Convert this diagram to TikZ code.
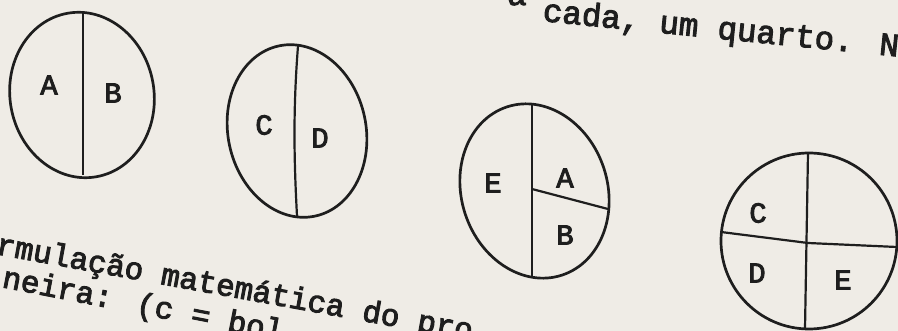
\documentclass[tikz,border=0pt]{standalone}
\usepackage{fontspec}
\newfontfamily\typewriter{Liberation Mono}[FakeBold=3]
\usetikzlibrary{positioning}

\definecolor{paper}{RGB}{239,236,230}
\definecolor{ink}{RGB}{30,30,30}

\begin{document}
\begin{tikzpicture}[
    x=1pt,
    y=-1pt,
    every node/.style={
        font=\typewriter\fontsize{29pt}{34pt}\selectfont,
        text=ink,
        inner sep=0pt
    },
    outline/.style={
        line width=2.7pt,
        draw=ink
    },
    cut/.style={
        line width=2.2pt,
        draw=ink
    },
    typed/.style={
        anchor=base west,
        font=\typewriter\fontsize{31pt}{36pt}\selectfont
    }
]

    % -------------------------------------------------------
    % Page
    % -------------------------------------------------------
    \useasboundingbox (0,0) rectangle (898,331);
    \fill[paper] (0,0) rectangle (898,331);
    \clip (0,0) rectangle (898,331);

    % -------------------------------------------------------
    % First cake: halves A and B
    % -------------------------------------------------------
    \draw[outline, rotate around={10:(82,95)}]
        (82,95) ellipse [x radius=72pt, y radius=83pt];
    \draw[cut] (83,13) -- (83,175);

    \node (ab-a) at (49,85) {A};
    \node (ab-b) at (113,93) {B};

    % -------------------------------------------------------
    % Second cake: halves C and D
    % -------------------------------------------------------
    \draw[outline, rotate around={12:(297,131)}]
        (297,131) ellipse [x radius=69pt, y radius=87pt];
    \draw[cut] (298,46) .. controls (293,110) and (294,160) .. (297,216);

    \node (cd-c) at (264,125) {C};
    \node (cd-d) at (320,138) {D};

    % -------------------------------------------------------
    % Third cake: E with the quarters A and B
    % -------------------------------------------------------
    \draw[outline, rotate around={18:(534.5,191)}]
        (534.5,191) ellipse [x radius=73pt, y radius=88.5pt];
    \draw[cut] (532,105) -- (532,278);
    \draw[cut] (532,189) -- (608,209);

    \node (eab-e) at (493,183) {E};
    \node (eab-a) at (565,178) {A};
    \node (eab-b) at (565,235) {B};

    % -------------------------------------------------------
    % Fourth cake: quarters C, D and E
    % -------------------------------------------------------
    \draw[outline] (809,241) circle [radius=88pt];
    \draw[cut] (808,153) -- (805,329);
    \draw[cut] (721,232) -- (808,243) -- (897,247);

    \node (cde-c) at (758,213) {C};
    \node (cde-d) at (757,273) {D};
    \node (cde-e) at (843,280) {E};

    % -------------------------------------------------------
    % Typed text round the sketches
    % -------------------------------------------------------
    \node[typed, font=\typewriter\fontsize{32.5pt}{36pt}\selectfont]
        (topa) at (507,5) {a};
    \node[typed, rotate=-5.7,
          font=\typewriter\fontsize{32.5pt}{36pt}\selectfont]
        (quarter) at (542,21) {cada, um quarto. N};

    \node[typed, rotate=-10.3] (formula) at (-5,254)
        {rmulação matemática do pro};
    \node[typed, rotate=-11] (manner) at (1,287)
        {neira: (c = bol};

\end{tikzpicture}
\end{document}
